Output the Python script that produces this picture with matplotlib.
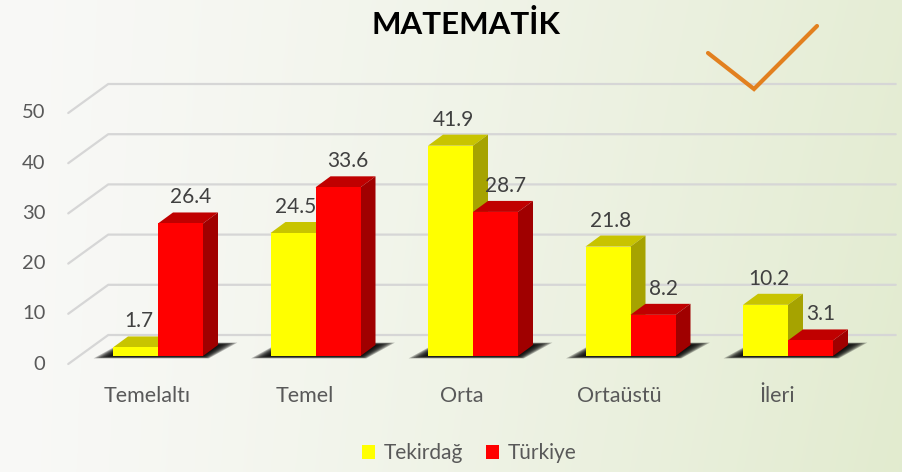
import numpy as np
import matplotlib.pyplot as plt
from matplotlib.patches import Polygon, Patch
from matplotlib.lines import Line2D

# --- dati ---
categories = ['Temelaltı', 'Temel', 'Orta', 'Ortaüstü', 'İleri']
tekirdag = [1.7, 24.5, 41.9, 21.8, 10.2]
turkiye = [26.4, 33.6, 28.7, 8.2, 3.1]
yticks = [0, 10, 20, 30, 40, 50]
series_names = ['Tekirdağ', 'Türkiye']

plt.rcParams['font.family'] = ['Lato', 'DejaVu Sans']

W, H = 902, 472
fig = plt.figure(figsize=(W / 100, H / 100), dpi=100)

# sfondo sfumato
bg = fig.add_axes([0, 0, 1, 1], zorder=0)
xx, yy = np.meshgrid(np.linspace(0, 1, 300), np.linspace(0, 1, 160))
t = np.clip(0.85 * xx ** 1.3 + 0.15 * yy * xx, 0, 1)
c0 = np.array([0.975, 0.975, 0.968])
c1 = np.array([0.886, 0.922, 0.812])
img = c0[None, None, :] * (1 - t[..., None]) + c1[None, None, :] * t[..., None]
bg.imshow(img, aspect='auto', extent=[0, 1, 0, 1], origin='upper')
bg.axis('off')

ax = fig.add_axes([0, 0, 1, 1], zorder=1)
ax.patch.set_alpha(0)
ax.set_xlim(-158 / 157.5, (W - 158) / 157.5)
ax.set_ylim(-116 / 5.02, (H - 116) / 5.02)
ax.axis('off')

# pixel -> unita dati
ux = (ax.get_xlim()[1] - ax.get_xlim()[0]) / W
uy = (ax.get_ylim()[1] - ax.get_ylim()[0]) / H

# profondita (pixel): piano frontale, piano di fondo, spessore barre
FRONT = (-11, -8)
BACK = (29, 21)
DEPTH = (15, 11)
bw = 45 / 157.5

# griglia 3D
for v in yticks:
    xs = [-0.5 + FRONT[0] * ux, -0.5 + BACK[0] * ux, 4.5 + BACK[0] * ux]
    ys = [v + FRONT[1] * uy, v + BACK[1] * uy, v + BACK[1] * uy]
    ax.plot(xs, ys, color='#d6d6d6', lw=1.6, zorder=1, solid_capstyle='round')
    ax.text(-0.5 + (FRONT[0] - 23) * ux, v + FRONT[1] * uy, str(v),
            ha='right', va='center', fontsize=14.5, color='#595959')

for i, c in enumerate(categories):
    ax.text(i + FRONT[0] * ux, -40 * uy, c, ha='center', va='center',
            fontsize=15.5, color='#595959')

# ombre alla base
dx, dy = DEPTH[0] * ux, DEPTH[1] * uy
for i in range(len(categories)):
    xl, xr = i - bw, i + bw
    for k in range(9):
        e = (1 + 2.3 * k) * ux
        ev = (0.3 * k) * uy
        pts = [(xl - e, -ev), (xr + e * 0.3, -ev),
               (xr + dx + e, dy + ev), (xl + dx - e * 0.3, dy + ev)]
        ax.add_patch(Polygon(pts, closed=True, facecolor='black', edgecolor='none',
                             alpha=0.26, zorder=2))

# barre 3D
series = [
    (tekirdag, -bw / 2, '#FFFF00', '#C8C400', '#A6A300', 3),
    (turkiye, bw / 2, '#FF0000', '#C00000', '#A00000', 10),
]
for i in range(len(categories)):
    for s, (vals, xoff, face, top, side, lab_dx) in enumerate(series):
        v = vals[i]
        z = 3 + 3 * i + s
        xc = i + xoff
        x0, x1 = xc - bw / 2, xc + bw / 2
        ax.bar(xc, v, width=bw, color=face, edgecolor='none', zorder=z + 0.5)
        ax.add_patch(Polygon([(x0, v), (x1, v), (x1 + dx, v + dy), (x0 + dx, v + dy)],
                             closed=True, facecolor=top, edgecolor='none', zorder=z))
        ax.add_patch(Polygon([(x1, 0), (x1, v), (x1 + dx, v + dy), (x1 + dx, dy)],
                             closed=True, facecolor=side, edgecolor='none', zorder=z))
        ax.annotate(f'{v}', xy=(xc, v), xytext=(lab_dx, 26), textcoords='offset pixels',
                    ha='center', va='center', fontsize=15, color='#404040', zorder=30)

# titolo
fig.text(466 / W, 1 - 24 / H, 'MATEMATİK', ha='center', va='center',
         fontsize=22.5, fontweight='bold', color='black')

# segno di spunta decorativo
tick_x = np.array([708, 754, 817]) / W
tick_y = 1 - np.array([53, 89, 26]) / H
fig.add_artist(Line2D(tick_x, tick_y, transform=fig.transFigure, color='#E2801F',
                      lw=3, solid_capstyle='round', solid_joinstyle='miter', zorder=5))

# legenda
handles = [Patch(facecolor='#FFFF00', edgecolor='none'),
           Patch(facecolor='#FF0000', edgecolor='none')]
fig.legend(handles, series_names, loc='center', bbox_to_anchor=(469 / W, 1 - 453 / H),
           ncol=2, frameon=False, fontsize=15, handlelength=0.65, handleheight=0.65,
           handletextpad=0.4, columnspacing=1.1, labelcolor='#595959')

fig.savefig('out.png', dpi=100)
